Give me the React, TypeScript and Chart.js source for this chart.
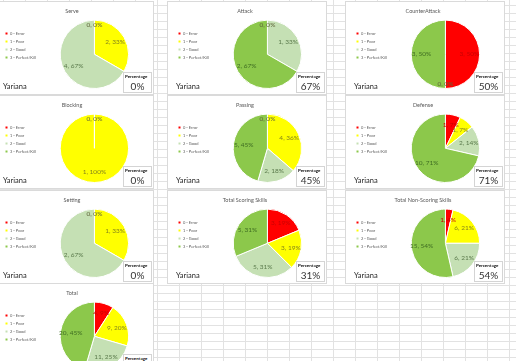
import React, { useEffect, useRef } from "react";
import { Chart, registerables } from "chart.js";

Chart.register(...registerables);

// ---- data ----
const categories = ["0 - Error", "1 - Poor", "2 - Good", "3 - Perfect/Kill"];
const chartTitles = [
  "Serve",
  "Attack",
  "CounterAttack",
  "Blocking",
  "Passing",
  "Defense",
  "Setting",
  "Total Scoring Skills",
  "Total Non-Scoring Skills",
  "Total",
];
const serve = [0, 2, 4, 0];
const attack = [0, 0, 1, 2];
const counterAttack = [3, 0, 0, 3];
const blocking = [0, 1, 0, 0];
const passing = [0, 4, 2, 5];
const defense = [1, 1, 2, 10];
const setting = [0, 1, 2, 0];
const totalScoring = [3, 3, 5, 5];
const totalNonScoring = [1, 6, 6, 15];
const total = [4, 9, 11, 20];
const playerName = "Yariana";
const percentageLabel = "Percentage";

const seriesList = [
  serve,
  attack,
  counterAttack,
  blocking,
  passing,
  defense,
  setting,
  totalScoring,
  totalNonScoring,
  total,
];

// ---- styles ----
const sliceColors = ["#FF0000", "#FFFF00", "#C5E0B4", "#8CC84B"];
const labelColors = ["#C80000", "#85851a", "#5b7a4c", "#3f6d22"];
const zeroLabelColor = "#5e6438";
const FONT = "Lato, 'Open Sans', sans-serif";

const PW = 158;
const PH = 92;
const colLefts = [-5, 168, 346];
const rowTops = [2, 96, 191, 284];

const sliceLabels = {
  id: "sliceLabels",
  afterDatasetsDraw(chart: any) {
    const meta = chart.getDatasetMeta(0);
    const data = chart.data.datasets[0].data as number[];
    const sum = data.reduce((a, b) => a + b, 0);
    const ctx = chart.ctx as CanvasRenderingContext2D;
    ctx.save();
    ctx.font = `6.5px ${FONT}`;
    ctx.textAlign = "center";
    ctx.textBaseline = "middle";
    const seen: number[] = [];
    meta.data.forEach((arc: any, i: number) => {
      const p = arc.getProps(["x", "y", "startAngle", "endAngle", "outerRadius"], true);
      const v = data[i];
      const mid = (p.startAngle + p.endAngle) / 2;
      let r = p.outerRadius * 0.7;
      let color = labelColors[i];
      if (v === 0) {
        const twoPi = Math.PI * 2;
        const key = Math.round((((mid % twoPi) + twoPi) % twoPi) * 100);
        if (seen.some((k) => Math.abs(k - key) < 2 || Math.abs(k - key) > 626)) return;
        seen.push(key);
        r = p.outerRadius * 0.86;
        color = zeroLabelColor;
      }
      ctx.fillStyle = color;
      const pct = sum ? Math.round((v / sum) * 100) : 0;
      ctx.fillText(`${v}, ${pct}%`, p.x + Math.cos(mid) * r, p.y + Math.sin(mid) * r);
    });
    ctx.restore();
  },
};

function PiePanel({ title, values, left, top }: { title: string; values: number[]; left: number; top: number }) {
  const ref = useRef<HTMLCanvasElement>(null);
  useEffect(() => {
    const chart = new Chart(ref.current as HTMLCanvasElement, {
      type: "pie",
      data: {
        labels: categories,
        datasets: [
          {
            data: values,
            backgroundColor: sliceColors,
            borderColor: "#ffffff",
            borderWidth: 1,
          },
        ],
      },
      options: {
        responsive: false,
        animation: false,
        events: [],
        layout: { padding: { left: 6, right: 10, top: 0, bottom: 5 } },
        plugins: {
          title: {
            display: true,
            text: title,
            color: "#595959",
            font: { family: FONT, size: 5.5, weight: "normal" },
            padding: { top: 6, bottom: 5 },
          },
          legend: {
            position: "left",
            labels: {
              boxWidth: 3,
              boxHeight: 3,
              padding: 4,
              color: "#595959",
              font: { family: FONT, size: 4 },
            },
          },
          tooltip: { enabled: false },
        },
      },
      plugins: [sliceLabels],
    } as any);
    return () => chart.destroy();
  }, []);
  const sum = values.reduce((a, b) => a + b, 0);
  const pct = sum ? Math.round((values[3] / sum) * 100) : 0;
  return (
    <div
      style={{
        position: "absolute",
        left,
        top,
        width: PW,
        height: PH,
        background: "#fff",
        boxShadow: "0 0 0 1px #dadada",
      }}
    >
      <canvas ref={ref} width={PW} height={PH} style={{ position: "absolute", left: 0, top: 0, width: PW, height: PH }} />
      <div
        style={{
          position: "absolute",
          left: 8,
          top: 80,
          font: `7.5px ${FONT}`,
          color: "#262626",
          whiteSpace: "nowrap",
        }}
      >
        {playerName}
      </div>
      <div
        style={{
          position: "absolute",
          left: 128,
          top: 70,
          width: 29,
          height: 21,
          boxSizing: "border-box",
          border: "1px solid #d4d4d4",
          background: "#fff",
        }}
      >
        <div
          style={{
            position: "absolute",
            left: 1,
            top: 1,
            font: `bold 4.5px ${FONT}`,
            color: "#111",
            whiteSpace: "nowrap",
          }}
        >
          {percentageLabel}
        </div>
        <div
          style={{
            position: "absolute",
            left: 0,
            width: 27,
            top: 7,
            textAlign: "center",
            font: `10px ${FONT}`,
            color: "#333",
            lineHeight: "12px",
          }}
        >
          {pct}%
        </div>
      </div>
    </div>
  );
}

export default function App() {
  return (
    <div
      style={{
        position: "fixed",
        left: 0,
        top: 0,
        width: 516,
        height: 361,
        overflow: "hidden",
        backgroundColor: "#fff",
        backgroundImage:
          "linear-gradient(to right, #e2e2e2 1px, transparent 1px), linear-gradient(to bottom, #e2e2e2 1px, transparent 1px)",
        backgroundSize: "22px 8px",
        backgroundPosition: "3px 5px",
      }}
    >
      {seriesList.map((vals, i) => (
        <PiePanel
          key={i}
          title={chartTitles[i]}
          values={vals}
          left={colLefts[i % 3]}
          top={rowTops[Math.floor(i / 3)]}
        />
      ))}
    </div>
  );
}
